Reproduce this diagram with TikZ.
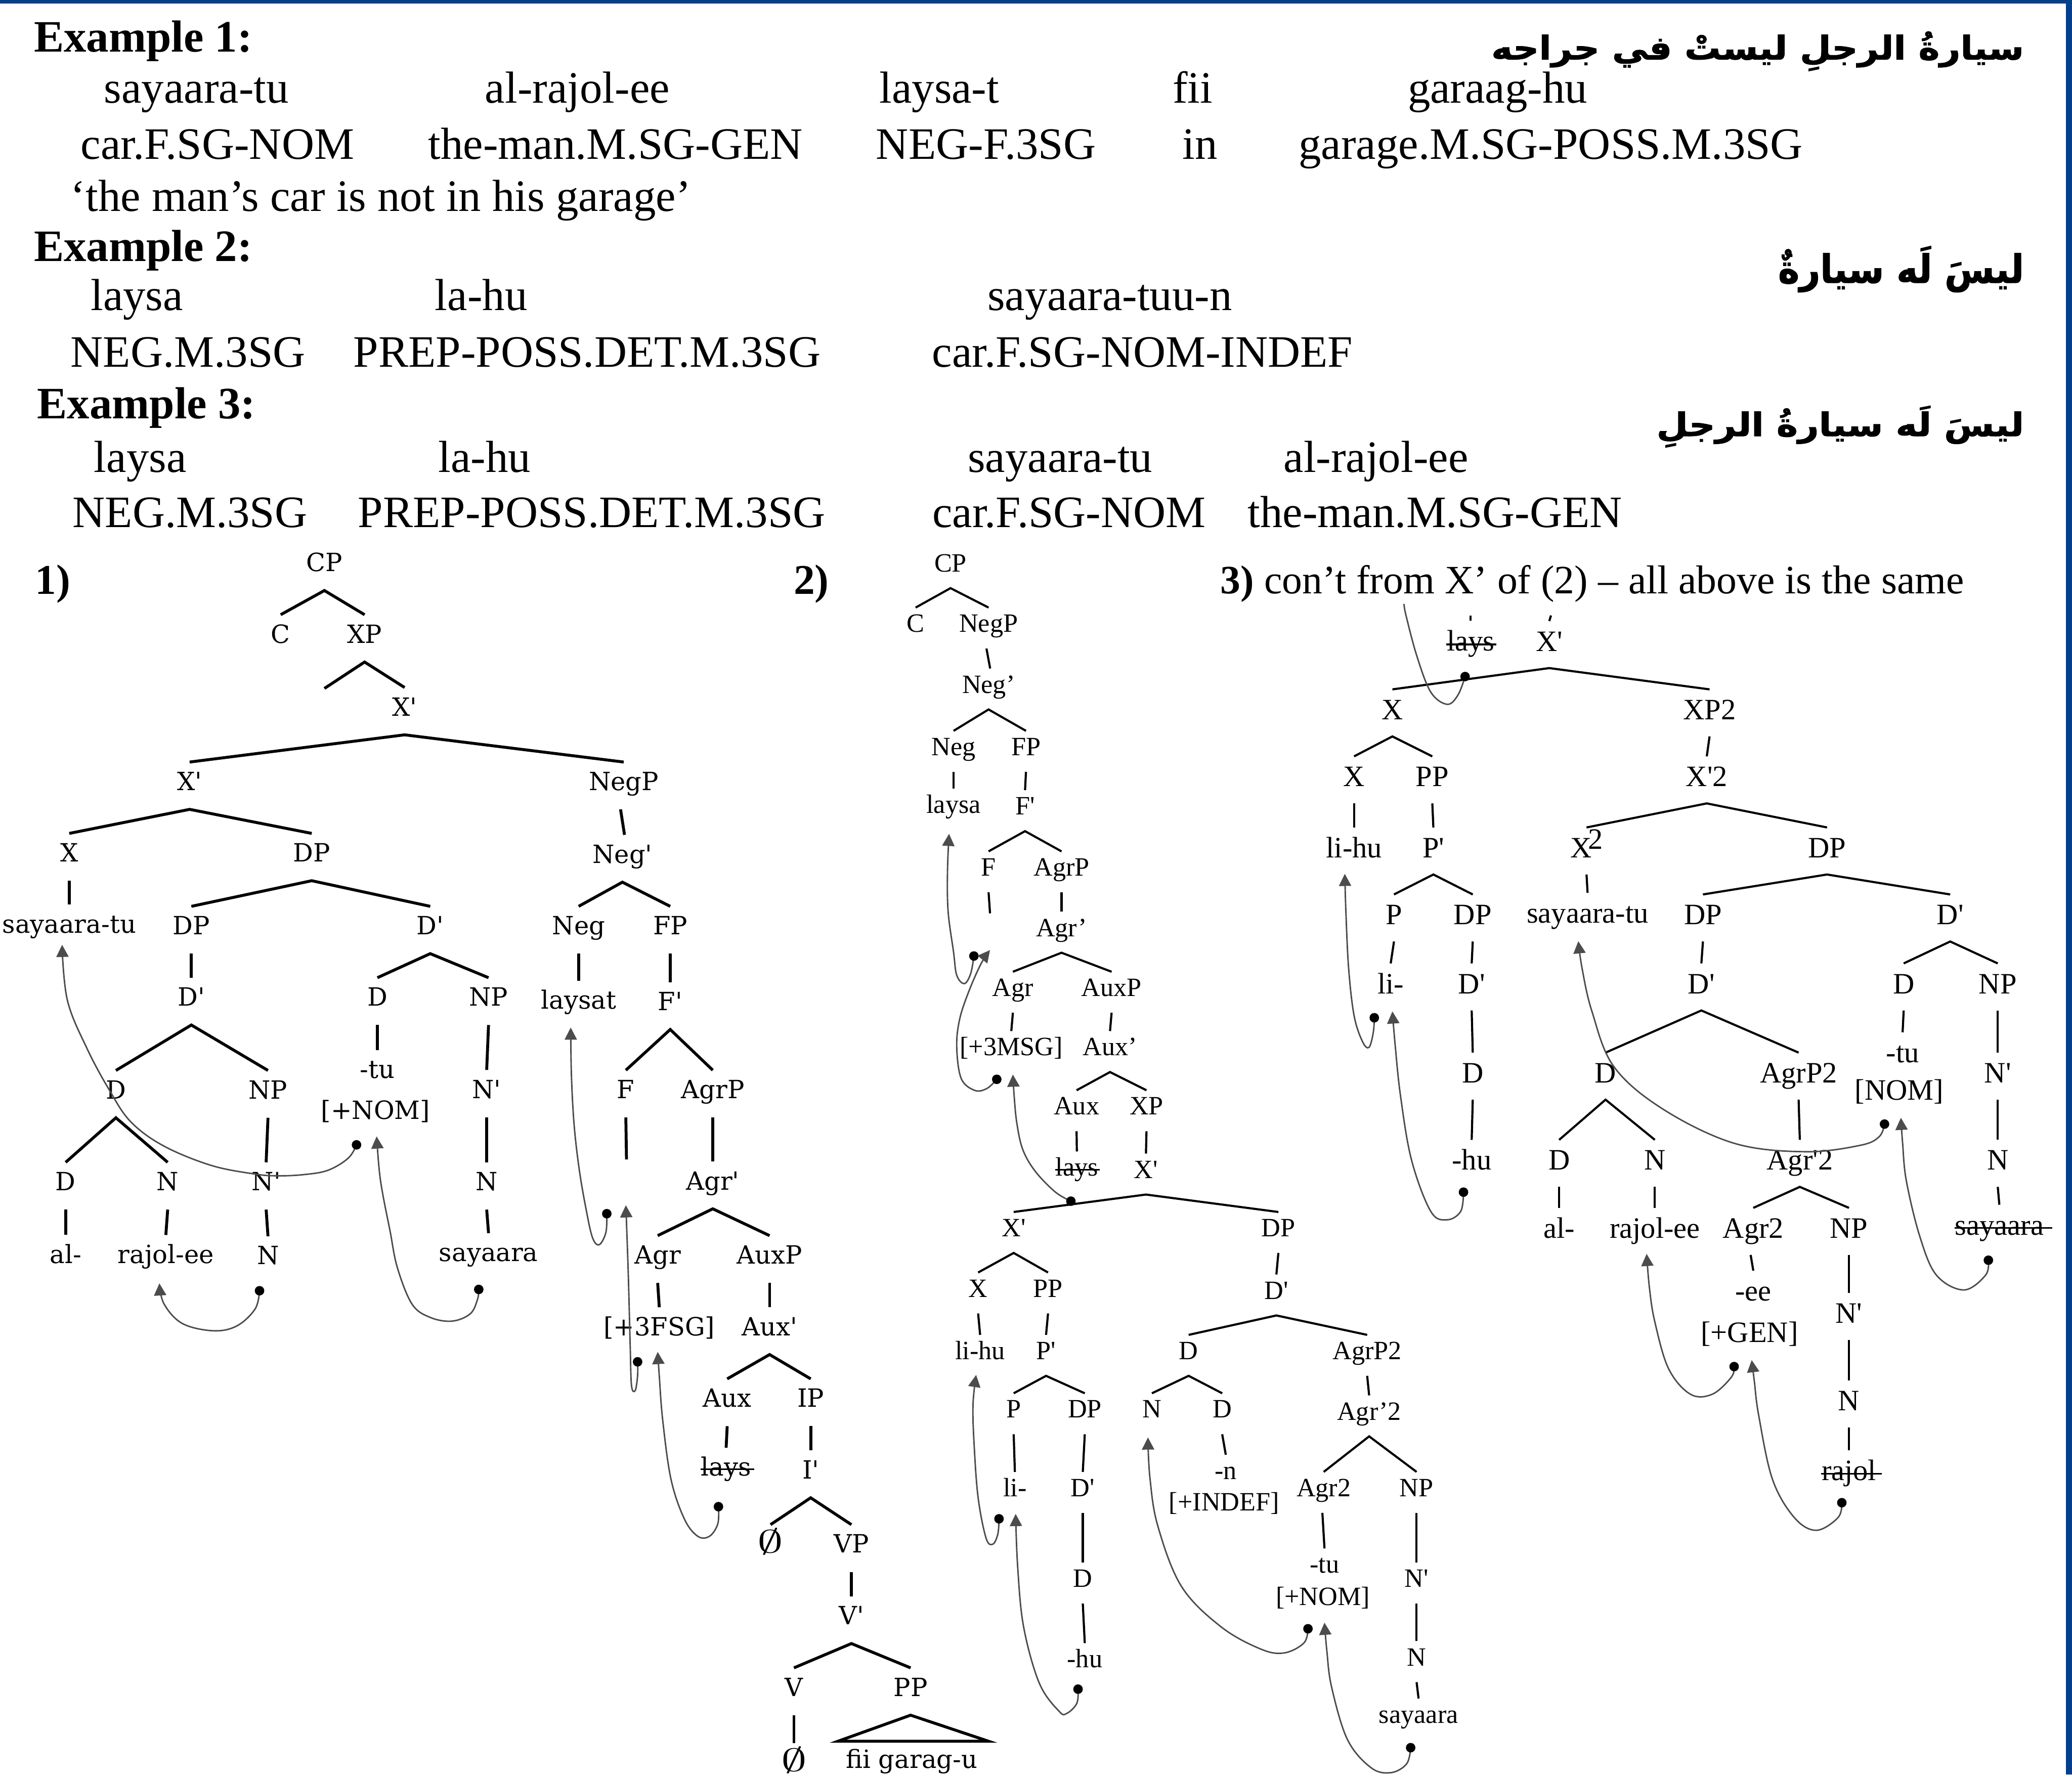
\documentclass[tikz,border=0pt]{standalone}
\usepackage{fontspec}
\setmainfont{Liberation Serif}
\newfontfamily\tfa{DejaVu Serif}
\newfontfamily\arabicfont[Script=Arabic,BoldFeatures={FakeBold=1.6}]{DejaVu Sans}
\TeXXeTstate=1
\usetikzlibrary{arrows.meta}
\definecolor{frameblue}{RGB}{0,64,140}
\newcommand\sq{\textquotesingle}
\newcommand\nul{\scalebox{2.1}[1.35]{$\emptyset$}}
\newcommand\strike[3]{\draw[line width=0.6pt] ([yshift=#2]#1.base west) -- ([xshift=#3,yshift=#2]#1.base east);}
\newcommand\dotat[1]{\fill[black] (#1) circle (1.8pt);}
\begin{document}
\begin{tikzpicture}[x=0.5pt,y=-0.5pt,
 tl1/.style={line width=1.1pt},
 tl2/.style={line width=0.8pt},
 mv/.style={draw=black!70, line width=0.55pt, -{Triangle[width=4.6pt,length=4.6pt]}},
 mvn/.style={draw=black!70, line width=0.55pt},
 ta/.style={font=\tfa\fontsize{9.5}{11}\selectfont, anchor=base, inner sep=0pt, text height=10.5pt, text depth=7pt},
 tb/.style={font=\fontsize{10}{12}\selectfont, anchor=base, inner sep=0pt, text height=9.1pt, text depth=6pt},
 tc/.style={font=\fontsize{11.2}{13}\selectfont, anchor=base, inner sep=0pt, text height=11.2pt, text depth=6.2pt},
 mt/.style={font=\fontsize{17}{20}\selectfont, anchor=base west, inner sep=0pt},
 mb/.style={font=\bfseries\fontsize{17}{20}\selectfont, anchor=base west, inner sep=0pt},
 ml/.style={font=\bfseries\fontsize{16}{19}\selectfont, anchor=base west, inner sep=0pt},
 ar/.style={anchor=base east, inner sep=0pt}]
\useasboundingbox (0,0) rectangle (1568,1343);
\fill[white] (0,0) rectangle (1568,1343);
\fill[frameblue] (0,0) rectangle (1568,2.8);
\fill[frameblue] (1563.5,0) rectangle (1568,1343);

% ---------------- header text ----------------
\node[mb] (ex1) at (25.3,39.1) {Example 1:};
\node[mt] (g1a) at (78.4,78) {sayaara-tu};
\node[mt] (g1b) at (366.7,78) {al-rajol-ee};
\node[mt] (g1c) at (665.1,78) {laysa-t};
\node[mt] (g1d) at (887,78) {fii};
\node[mt] (g1e) at (1065,78) {garaag-hu};
\node[mt] (h1a) at (60.7,120.3) {car.F.SG-NOM};
\node[mt] (h1b) at (323.7,120.3) {the-man.M.SG-GEN};
\node[mt] (h1c) at (662.6,120.3) {NEG-F.3SG};
\node[mt] (h1d) at (894.4,120.3) {in};
\node[mt] (h1e) at (982.4,120.3) {garage.M.SG-POSS.M.3SG};
\node[mt] (tr1) at (53.1,160) {‘the man’s car is not in his garage’};
\node[mb] (ex2) at (25.3,197.8) {Example 2:};
\node[mt] (g2a) at (68.3,234.8) {laysa};
\node[mt] (g2b) at (328.8,234.8) {la-hu};
\node[mt] (g2c) at (747,234.8) {sayaara-tuu-n};
\node[mt] (h2a) at (53.1,277.6) {NEG.M.3SG};
\node[mt] (h2b) at (267.1,277.6) {PREP-POSS.DET.M.3SG};
\node[mt] (h2c) at (705,277.6) {car.F.SG-NOM-INDEF};
\node[mb] (ex3) at (27.8,316.7) {Example 3:};
\node[mt] (g3a) at (70.8,357.5) {laysa};
\node[mt] (g3b) at (331.3,357.5) {la-hu};
\node[mt] (g3c) at (732,357.5) {sayaara-tu};
\node[mt] (g3d) at (971,357.5) {al-rajol-ee};
\node[mt] (h3a) at (54.6,399.2) {NEG.M.3SG};
\node[mt] (h3b) at (270.6,399.2) {PREP-POSS.DET.M.3SG};
\node[mt] (h3c) at (705.2,399.2) {car.F.SG-NOM};
\node[mt] (h3d) at (943.9,399.2) {the-man.M.SG-GEN};

\node[ar] (ar1) at (1532,45) {\resizebox*{201.5pt}{15pt}{\arabicfont\bfseries\beginR سيارةُ الرجلِ ليستْ في جراجه\endR}};
\node[ar] (ar2) at (1532,214) {\resizebox*{93pt}{17.5pt}{\arabicfont\bfseries\beginR ليسَ لَه سيارةٌ\endR}};
\node[ar] (ar3) at (1532,330) {\resizebox*{139pt}{15.8pt}{\arabicfont\bfseries\beginR ليسَ لَه سيارةُ الرجلِ\endR}};

\node[ml] (lab1) at (26.2,449.5) {1)};
\node[ml] (lab2) at (600.3,449.5) {2)};
\node[anchor=base west, inner sep=0pt, font=\fontsize{15.25}{18}\selectfont] (lab3) at (923.3,449.2) {\textbf{3)} con’t from X’ of (2) – all above is the same};

% ---------------- tree 1 ----------------
\node[ta] (a-cp) at (245.5,432.5) {CP};
\node[ta] (a-c) at (212.4,486.6) {C};
\node[ta] (a-xp) at (275.9,486.6) {XP};
\coordinate (a-xpl) at (245.5,521);
\node[ta] (a-xb1) at (306.2,541.7) {X\sq};
\node[ta] (a-xb2) at (143.5,598.1) {X\sq};
\node[ta] (a-negp) at (472,598.1) {NegP};
\node[ta] (a-x) at (52.4,652.1) {X};
\node[ta] (a-dp1) at (235.9,652.1) {DP};
\node[ta] (a-sayt) at (52.4,706) {sayaara-tu};
\node[ta] (a-dp2) at (144.8,707.3) {DP};
\node[ta] (a-db1) at (325.6,707.3) {D\sq};
\node[ta] (a-db2) at (144.8,761.3) {D\sq};
\node[ta] (a-d1) at (285.6,761.3) {D};
\node[ta] (a-np1) at (369.7,761.3) {NP};
\node[ta] (a-tu) at (285.6,816) {-tu};
\node[ta] (a-nom) at (284.2,846.8) {[+NOM]};
\node[ta] (a-nb1) at (368.3,831.1) {N\sq};
\node[ta] (a-n1) at (368.3,901) {N};
\node[ta] (a-say) at (369.7,954.6) {sayaara};
\node[ta] (a-d2) at (87.7,831.5) {D};
\node[ta] (a-np2) at (202.8,831.5) {NP};
\node[ta] (a-d3) at (49.7,901) {D};
\node[ta] (a-n2) at (126.9,901) {N};
\node[ta] (a-nb2) at (201.4,901) {N\sq};
\node[ta] (a-al) at (49.7,956) {al-};
\node[ta] (a-raj) at (125.5,956) {rajol-ee};
\node[ta] (a-n3) at (202.8,957) {N};

\draw[tl1] (a-c.north) -- (a-cp.south) -- (a-xp.north);
\draw[tl1] (a-xpl) -- (a-xp.south) -- (a-xb1.north);
\draw[tl1] (a-xb2.north) -- (a-xb1.south) -- (a-negp.north);
\draw[tl1] (a-x.north) -- (a-xb2.south) -- (a-dp1.north);
\draw[tl1] (a-x.south) -- (a-sayt.north);
\draw[tl1] (a-dp2.north) -- (a-dp1.south) -- (a-db1.north);
\draw[tl1] (a-dp2.south) -- (a-db2.north);
\draw[tl1] (a-d1.north) -- (a-db1.south) -- (a-np1.north);
\draw[tl1] (a-d1.south) -- (a-tu.north);
\draw[tl1] (a-np1.south) -- (a-nb1.north);
\draw[tl1] (a-nb1.south) -- (a-n1.north);
\draw[tl1] (a-n1.south) -- (a-say.north);
\draw[tl1] (a-d2.north) -- (a-db2.south) -- (a-np2.north);
\draw[tl1] (a-d3.north) -- (a-d2.south) -- (a-n2.north);
\draw[tl1] (a-np2.south) -- (a-nb2.north);
\draw[tl1] (a-d3.south) -- (a-al.north);
\draw[tl1] (a-n2.south) -- (a-raj.north);
\draw[tl1] (a-nb2.south) -- (a-n3.north);

\node[ta] (a-negb) at (471,653.2) {Neg\sq};
\node[ta] (a-neg) at (437.9,707.3) {Neg};
\node[ta] (a-fp) at (507.2,707.3) {FP};
\node[ta] (a-laysat) at (437.9,763.5) {laysat};
\node[ta] (a-fb) at (507.2,764.7) {F\sq};
\node[ta] (a-f) at (473.6,831.3) {F};
\node[ta] (a-agrp) at (539.4,831.3) {AgrP};
\coordinate (a-fend) at (474.1,877.4);
\node[ta] (a-agrb) at (539.4,900.4) {Agr\sq};
\node[ta] (a-agr) at (497.7,956.5) {Agr};
\node[ta] (a-auxp) at (582.4,956.5) {AuxP};
\node[ta] (a-fsg) at (498.9,1010.7) {[+3FSG]};
\node[ta] (a-auxb) at (582.4,1010.7) {Aux\sq};
\node[ta] (a-aux) at (550.3,1064.9) {Aux};
\node[ta] (a-ip) at (613.5,1064.9) {IP};
\node[ta] (a-lays) at (549.5,1117) {lays};
\node[ta] (a-ib) at (613.5,1119.1) {I\sq};
\node[ta] (a-null1) at (583.1,1175.2) {\nul};
\node[ta] (a-vp) at (644.3,1175.2) {VP};
\node[ta] (a-vb) at (644.3,1229.4) {V\sq};
\node[ta] (a-v) at (600.8,1283.6) {V};
\node[ta] (a-pp) at (689.1,1283.6) {PP};
\node[ta] (a-null2) at (600.8,1340.5) {\nul};
\node[ta] (a-fii) at (689.9,1338) {fii garag-u};
\coordinate (a-tl) at (634.2,1317.7);
\coordinate (a-tr) at (748,1317.7);
\strike{a-lays}{2.6pt}{1pt}

\draw[tl1] ([xshift=-1.2pt]a-negp.south) -- ([xshift=0.8pt]a-negb.north);
\draw[tl1] (a-neg.north) -- (a-negb.south) -- (a-fp.north);
\draw[tl1] (a-neg.south) -- (a-laysat.north);
\draw[tl1] (a-fp.south) -- (a-fb.north);
\draw[tl1] (a-f.north) -- (a-fb.south) -- (a-agrp.north);
\draw[tl1] (a-f.south) -- (a-fend);
\draw[tl1] (a-agrp.south) -- (a-agrb.north);
\draw[tl1] (a-agr.north) -- (a-agrb.south) -- (a-auxp.north);
\draw[tl1] (a-agr.south) -- (a-fsg.north);
\draw[tl1] (a-auxp.south) -- (a-auxb.north);
\draw[tl1] (a-aux.north) -- (a-auxb.south) -- (a-ip.north);
\draw[tl1] (a-aux.south) -- (a-lays.north);
\draw[tl1] (a-ip.south) -- (a-ib.north);
\draw[tl1] (a-null1.north) -- (a-ib.south) -- (a-vp.north);
\draw[tl1] (a-vp.south) -- (a-vb.north);
\draw[tl1] (a-v.north) -- (a-vb.south) -- (a-pp.north);
\draw[tl1] (a-v.south) -- (a-null2.north);
\draw[tl1] (a-pp.south) -- (a-tl) -- (a-tr) -- cycle;

% movement tree 1
\coordinate (m1s) at (269.8,866.4); \coordinate (m1e) at (47,715);
\draw[mv] plot[smooth,tension=0.6] coordinates {(m1s) (263.5,876.5) (248,885.7) (229,889) (209.7,889.8) (193,888.5) (160,882) (124,867.3) (99,849) (82.8,825) (66,793.8) (51,757) (m1e)};
\dotat{m1s}
\coordinate (m2s) at (362.3,975.8); \coordinate (m2e) at (285,860);
\draw[mv] plot[smooth,tension=0.6] coordinates {(m2s) (361.4,983.2) (355.9,994.2) (342.1,999.8) (325.6,997) (311.8,986.9) (300.7,959.3) (295.2,931.7) (289.7,904) (287,885.7) (m2e)};
\dotat{m2s}
\coordinate (m3s) at (196.4,976.8); \coordinate (m3e) at (120.6,971.2);
\draw[mv] plot[smooth,tension=0.6] coordinates {(m3s) (193.1,990.5) (179.3,1003.4) (161.4,1007.1) (138,1001.6) (124.2,986.9) (m3e)};
\dotat{m3s}
\coordinate (m4s) at (459.2,918.5); \coordinate (m4e) at (431.9,777.6);
\draw[mv] plot[smooth,tension=0.6] coordinates {(m4s) (458.5,932.7) (453.4,942) (448.3,936.4) (443.3,914) (438.2,884.1) (434.4,850.5) (432.4,813.1) (m4e)};
\dotat{m4s}
\coordinate (m5s) at (482.5,1030.6); \coordinate (m5e) at (473.6,912.1);
\draw[mv] plot[smooth,tension=0.6] coordinates {(m5s) (482.5,1041.1) (480.7,1052.3) (477.9,1048.6) (476.9,1018.7) (475.4,962.6) (m5e)};
\dotat{m5s}
\coordinate (m6s) at (543.7,1140.2); \coordinate (m6e) at (497.7,1023.1);
\draw[mv] plot[smooth,tension=0.6] coordinates {(m6s) (543.2,1153.2) (536.9,1162.6) (528,1162.6) (517.9,1149.5) (507.8,1119.6) (501.5,1074.7) (498.9,1041.1) (m6e)};
\dotat{m6s}

% ---------------- tree 2 ----------------
\node[tb] (b-cp) at (719.3,432.7) {CP};
\node[tb] (b-c) at (692.9,478.4) {C};
\node[tb] (b-negp) at (748.1,478.4) {NegP};
\node[tb] (b-negb) at (748.1,524.5) {Neg’};
\node[tb] (b-neg) at (721.6,571.7) {Neg};
\node[tb] (b-fp) at (776.4,571.7) {FP};
\node[tb] (b-laysa) at (721.6,615.5) {laysa};
\node[tb] (b-fb) at (775.7,616.6) {F\sq};
\node[tb] (b-f) at (748.1,662.9) {F};
\node[tb] (b-agrp) at (803.3,662.9) {AgrP};
\coordinate (b-fend) at (749.2,691.2);
\node[tb] (b-agrb) at (803.3,708.6) {Agr’};
\node[tb] (b-agr) at (766.5,754) {Agr};
\node[tb] (b-auxp) at (841.2,754) {AuxP};
\node[tb] (b-msg) at (765.3,798.9) {[+3MSG]};
\node[tb] (b-auxb) at (840,798.9) {Aux’};
\node[tb] (b-aux) at (814.7,843.7) {Aux};
\node[tb] (b-xp) at (867.6,843.7) {XP};
\node[tb] (b-lays) at (814.9,890) {lays};
\node[tb] (b-xb1) at (867.2,891.6) {X\sq};
\node[tb] (b-xb2) at (767.1,935.8) {X\sq};
\node[tb] (b-dp1) at (967.4,935.8) {DP};
\node[tb] (b-x) at (740.2,981.6) {X};
\node[tb] (b-pp) at (793.1,981.6) {PP};
\node[tb] (b-db1) at (965.9,983.1) {D\sq};
\node[tb] (b-lihu) at (741.7,1028.8) {li-hu};
\node[tb] (b-pb) at (791.6,1028.8) {P\sq};
\node[tb] (b-d1) at (899.5,1028.8) {D};
\node[tb] (b-agrp2) at (1034.6,1028.8) {AgrP2};
\node[tb] (b-p) at (767.1,1073) {P};
\node[tb] (b-dp2) at (820.9,1073) {DP};
\node[tb] (b-n1) at (871.7,1073) {N};
\node[tb] (b-d2) at (924.9,1073) {D};
\node[tb] (b-agrb2) at (1036.1,1074.6) {Agr’2};
\node[tb] (b-li) at (768,1132.5) {li-};
\node[tb] (b-db2) at (819.4,1132.5) {D\sq};
\node[tb] (b-en) at (927.6,1119.5) {-n};
\node[tb] (b-indef) at (926.4,1143.2) {[+INDEF]};
\node[tb] (b-agr2) at (1001.7,1132.5) {Agr2};
\node[tb] (b-np) at (1072,1132.5) {NP};
\node[tb] (b-d3) at (819.4,1201.1) {D};
\node[tb] (b-tu) at (1002.3,1190.4) {-tu};
\node[tb] (b-nom) at (1001.1,1214.8) {[+NOM]};
\node[tb] (b-nb) at (1072,1201.1) {N\sq};
\node[tb] (b-hu) at (820.9,1262.1) {-hu};
\node[tb] (b-n2) at (1072,1260.6) {N};
\node[tb] (b-say) at (1073.5,1304) {sayaara};
\strike{b-lays}{2.4pt}{0.5pt}

\draw[tl2] (b-c.north) -- (b-cp.south) -- (b-negp.north);
\draw[tl2] ([xshift=-0.8pt]b-negp.south) -- ([xshift=0.6pt]b-negb.north);
\draw[tl2] (b-neg.north) -- (b-negb.south) -- (b-fp.north);
\draw[tl2] (b-neg.south) -- (b-laysa.north);
\draw[tl2] (b-fp.south) -- (b-fb.north);
\draw[tl2] (b-f.north) -- (b-fb.south) -- (b-agrp.north);
\draw[tl2] (b-f.south) -- (b-fend);
\draw[tl2] (b-agrp.south) -- (b-agrb.north);
\draw[tl2] (b-agr.north) -- (b-agrb.south) -- (b-auxp.north);
\draw[tl2] (b-agr.south) -- (b-msg.north);
\draw[tl2] (b-auxp.south) -- (b-auxb.north);
\draw[tl2] (b-aux.north) -- (b-auxb.south) -- (b-xp.north);
\draw[tl2] (b-aux.south) -- (b-lays.north);
\draw[tl2] (b-xp.south) -- (b-xb1.north);
\draw[tl2] (b-xb2.north) -- (b-xb1.south) -- (b-dp1.north);
\draw[tl2] (b-x.north) -- (b-xb2.south) -- (b-pp.north);
\draw[tl2] (b-x.south) -- (b-lihu.north);
\draw[tl2] (b-pp.south) -- (b-pb.north);
\draw[tl2] (b-dp1.south) -- (b-db1.north);
\draw[tl2] (b-d1.north) -- (b-db1.south) -- (b-agrp2.north);
\draw[tl2] (b-p.north) -- (b-pb.south) -- (b-dp2.north);
\draw[tl2] (b-n1.north) -- (b-d1.south) -- (b-d2.north);
\draw[tl2] (b-agrp2.south) -- (b-agrb2.north);
\draw[tl2] (b-agr2.north) -- (b-agrb2.south) -- (b-np.north);
\draw[tl2] (b-p.south) -- (b-li.north);
\draw[tl2] (b-dp2.south) -- (b-db2.north);
\draw[tl2] (b-d2.south) -- (b-en.north);
\draw[tl2] ([xshift=-0.5pt]b-agr2.south) -- (b-tu.north);
\draw[tl2] (b-np.south) -- (b-nb.north);
\draw[tl2] (b-db2.south) -- (b-d3.north);
\draw[tl2] (b-nb.south) -- (b-n2.north);
\draw[tl2] (b-d3.south) -- (b-hu.north);
\draw[tl2] (b-n2.south) -- (b-say.north);

% movement tree 2
\coordinate (n1s) at (737,723.5); \coordinate (n1e) at (718.2,631);
\draw[mv] plot[smooth,tension=0.6] coordinates {(n1s) (734.5,737) (729.7,744.4) (724,738) (721.6,720.5) (717.5,690) (717,660) (n1e)};
\dotat{n1s}
\coordinate (n2s) at (754.3,816.8); \coordinate (n2e) at (749.2,719);
\draw[mv] plot[smooth,tension=0.6] coordinates {(n2s) (746.9,823.7) (737.7,825.2) (727.4,816.2) (724,792.3) (726.2,771.4) (733.1,750.4) (742.3,729.5) (n2e)};
\dotat{n2s}
\coordinate (n3s) at (810.4,909); \coordinate (n3e) at (766.5,813.2);
\draw[mv] plot[smooth,tension=0.6] coordinates {(n3s) (798.5,902) (783.5,886.5) (774,870) (769.5,850) (767.5,830) (n3e)};
\dotat{n3s}
\coordinate (n4s) at (756,1149.4); \coordinate (n4e) at (738.7,1040.5);
\draw[mv] plot[smooth,tension=0.6] coordinates {(n4s) (755.1,1161) (751.3,1168.6) (746.2,1164) (740.2,1133.5) (737.2,1093.9) (736.3,1063.4) (n4e)};
\dotat{n4s}
\coordinate (n5s) at (815.8,1278.3); \coordinate (n5e) at (768.6,1145.7);
\draw[mv] plot[smooth,tension=0.6] coordinates {(n5s) (814.9,1289) (807.4,1296.6) (801.5,1295.1) (786.5,1273.8) (774.6,1231.1) (770.1,1185.4) (n5e)};
\dotat{n5s}
\coordinate (n6s) at (989.8,1232.6); \coordinate (n6e) at (868.7,1087.8);
\draw[mv] plot[smooth,tension=0.6] coordinates {(n6s) (986.8,1243.3) (971.8,1250.9) (953.9,1247.9) (924,1231.1) (894.1,1200.6) (876.2,1154.9) (870.2,1118.3) (n6e)};
\dotat{n6s}
\coordinate (n7s) at (1067.5,1322.6); \coordinate (n7e) at (1002.3,1228);
\draw[mv] plot[smooth,tension=0.6] coordinates {(n7s) (1064.5,1334.8) (1052.6,1341.5) (1037.6,1337.8) (1019.7,1316.5) (1007.7,1276.8) (1004.1,1249.4) (n7e)};
\dotat{n7s}

% ---------------- tree 3 ----------------
\coordinate (c-s1) at (1112.9,465.8);
\coordinate (c-s2) at (1173.7,465.8);
\node[tc] (c-lays) at (1112.9,492.5) {lays};
\node[tc] (c-xb1) at (1172.4,492.8) {X\sq};
\node[tc] (c-x1) at (1053.7,544.5) {X};
\node[tc] (c-xp2) at (1293.7,544.5) {XP2};
\node[tc] (c-x2) at (1024.7,595.2) {X};
\node[tc] (c-pp) at (1083.9,595.2) {PP};
\node[tc] (c-xb2) at (1291.6,595.2) {X\sq2};
\node[tc] (c-lihu) at (1024.7,649) {li-hu};
\node[tc] (c-pb) at (1084.7,649) {P\sq};
\node[tc] (c-xsq) at (1200.6,649) {X\kern-0.12em\raisebox{0.28em}{2}};
\node[tc] (c-dp1) at (1382.6,649) {DP};
\node[tc] (c-p) at (1054.9,699.7) {P};
\node[tc] (c-dp2) at (1114.5,699.7) {DP};
\node[tc] (c-sayt) at (1201.4,698.5) {sayaara-tu};
\node[tc] (c-dp3) at (1288.7,699.7) {DP};
\node[tc] (c-db1) at (1475.8,699.7) {D\sq};
\node[tc] (c-li) at (1052.4,751.9) {li-};
\node[tc] (c-db2) at (1113.7,751.9) {D\sq};
\node[tc] (c-db3) at (1287.5,751.9) {D\sq};
\node[tc] (c-d1) at (1440.6,751.9) {D};
\node[tc] (c-np1) at (1511.8,751.9) {NP};
\node[tc] (c-d2) at (1114.5,819.4) {D};
\node[tc] (c-d3) at (1215,819.4) {D};
\node[tc] (c-agrp2) at (1361.1,819.4) {AgrP2};
\node[tc] (c-tu) at (1439.8,804) {-tu};
\node[tc] (c-nom) at (1437.3,832.3) {[NOM]};
\node[tc] (c-nb1) at (1511.8,819.4) {N\sq};
\node[tc] (c-hu) at (1113.7,885.4) {-hu};
\node[tc] (c-d4) at (1179.9,885.4) {D};
\node[tc] (c-n1) at (1252.3,885.4) {N};
\node[tc] (c-agrb2) at (1362,885.4) {Agr\sq2};
\node[tc] (c-n2) at (1511.8,885.4) {N};
\node[tc] (c-al) at (1179.9,936.9) {al-};
\node[tc] (c-raj) at (1252.3,936.9) {rajol-ee};
\node[tc] (c-agr2) at (1326.8,936.9) {Agr2};
\node[tc] (c-np2) at (1399.2,936.9) {NP};
\node[tc] (c-say) at (1513,934.5) {sayaara};
\node[tc] (c-ee) at (1326.8,984.4) {-ee};
\node[tc] (c-gen) at (1323.9,1015.8) {[+GEN]};
\node[tc] (c-nb2) at (1399.2,1001.3) {N\sq};
\node[tc] (c-n3) at (1399.2,1067.3) {N};
\node[tc] (c-rajol) at (1399.2,1120.4) {rajol};
\strike{c-lays}{2.4pt}{0.5pt}
\strike{c-say}{2.6pt}{3pt}
\strike{c-rajol}{2.6pt}{2pt}

\draw[tl2] (c-s1) -- (c-lays.north);
\draw[tl2] (c-s2) -- (c-xb1.north);
\draw[tl2] (c-x1.north) -- (c-xb1.south) -- (c-xp2.north);
\draw[tl2] (c-x2.north) -- (c-x1.south) -- (c-pp.north);
\draw[tl2] (c-xp2.south) -- (c-xb2.north);
\draw[tl2] (c-x2.south) -- (c-lihu.north);
\draw[tl2] (c-pp.south) -- (c-pb.north);
\draw[tl2] (c-xsq.north) -- (c-xb2.south) -- (c-dp1.north);
\draw[tl2] (c-p.north) -- (c-pb.south) -- (c-dp2.north);
\draw[tl2] (c-xsq.south) -- (c-sayt.north);
\draw[tl2] (c-dp3.north) -- (c-dp1.south) -- (c-db1.north);
\draw[tl2] (c-p.south) -- (c-li.north);
\draw[tl2] (c-dp2.south) -- (c-db2.north);
\draw[tl2] (c-dp3.south) -- (c-db3.north);
\draw[tl2] (c-d1.north) -- (c-db1.south) -- (c-np1.north);
\draw[tl2] (c-db2.south) -- (c-d2.north);
\draw[tl2] (c-d3.north) -- (c-db3.south) -- (c-agrp2.north);
\draw[tl2] (c-d1.south) -- (c-tu.north);
\draw[tl2] (c-np1.south) -- (c-nb1.north);
\draw[tl2] (c-d2.south) -- (c-hu.north);
\draw[tl2] (c-d4.north) -- (c-d3.south) -- (c-n1.north);
\draw[tl2] (c-agrp2.south) -- (c-agrb2.north);
\draw[tl2] (c-nb1.south) -- (c-n2.north);
\draw[tl2] (c-d4.south) -- (c-al.north);
\draw[tl2] (c-n1.south) -- (c-raj.north);
\draw[tl2] (c-agr2.north) -- (c-agrb2.south) -- (c-np2.north);
\draw[tl2] (c-n2.south) -- (c-say.north);
\draw[tl2] ([xshift=-1pt]c-agr2.south) -- (c-ee.north);
\draw[tl2] (c-np2.south) -- (c-nb2.north);
\draw[tl2] (c-nb2.south) -- (c-n3.north);
\draw[tl2] (c-n3.south) -- (c-rajol.north);

% movement tree 3
\coordinate (o0s) at (1108.7,512); \coordinate (o0e) at (1062.5,457);
\draw[mvn] plot[smooth,tension=0.6] coordinates {(o0s) (1103.3,526) (1095.1,533) (1082.7,523.7) (1072.3,496.8) (1064,465.8) (o0e)};
\dotat{o0s}
\coordinate (o1s) at (1040,770.2); \coordinate (o1e) at (1017.7,661.3);
\draw[mv] plot[smooth,tension=0.6] coordinates {(o1s) (1039.2,781.5) (1035.9,792.7) (1030.9,787.9) (1024.7,768.6) (1020.6,733.2) (1018.5,690) (o1e)};
\dotat{o1s}
\coordinate (o2s) at (1107.5,902.2); \coordinate (o2e) at (1053.7,765.4);
\draw[mv] plot[smooth,tension=0.6] coordinates {(o2s) (1105.4,916.7) (1095.1,923.1) (1082.7,916.7) (1068.2,878) (1059.9,829.8) (1055.8,791.1) (o2e)};
\dotat{o2s}
\coordinate (o3s) at (1426.1,850.7); \coordinate (o3e) at (1194.4,712.3);
\draw[mv] plot[smooth,tension=0.6] coordinates {(o3s) (1422,860.3) (1407.5,866.8) (1366.1,871.6) (1312.3,865.2) (1258.5,839.4) (1221.3,807.2) (1204.7,765.4) (1197.3,733.2) (o3e)};
\dotat{o3s}
\coordinate (o4s) at (1504.7,953.7); \coordinate (o4e) at (1438.5,845.9);
\draw[mv] plot[smooth,tension=0.6] coordinates {(o4s) (1502.6,965) (1486.1,976.2) (1465.4,965) (1452.9,936) (1442.7,894.1) (1439.8,865.2) (o4e)};
\dotat{o4s}
\coordinate (o5s) at (1312.3,1034.2); \coordinate (o5e) at (1246.1,948.9);
\draw[mv] plot[smooth,tension=0.6] coordinates {(o5s) (1310.2,1042.2) (1295.8,1055.1) (1279.2,1055.1) (1262.7,1035.8) (1252.3,1000.4) (1248.2,974.6) (o5e)};
\dotat{o5s}
\coordinate (o6s) at (1393.8,1137.2); \coordinate (o6e) at (1325.6,1029.3);
\draw[mv] plot[smooth,tension=0.6] coordinates {(o6s) (1391,1148.4) (1374.4,1158.1) (1357.8,1148.4) (1341.3,1119.5) (1330.9,1071.2) (1327.6,1045.4) (o6e)};
\dotat{o6s}
\end{tikzpicture}
\end{document}
